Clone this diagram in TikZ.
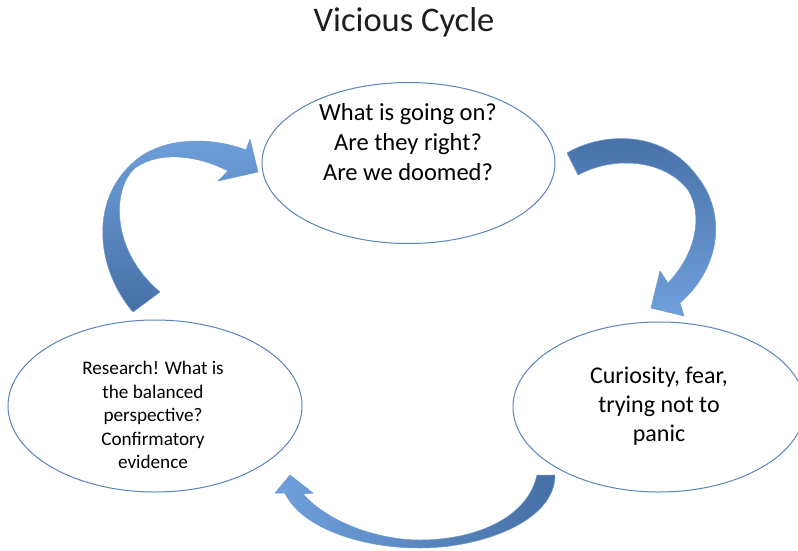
\documentclass[tikz,border=0pt]{standalone}
\usepackage{fontspec}
\setmainfont{Carlito}
\usetikzlibrary{shapes.geometric}
\definecolor{ringblue}{HTML}{5A84BE}
\definecolor{flowdark}{HTML}{466FA5}
\definecolor{flowlight}{HTML}{6FA0DC}
\definecolor{flowedge}{HTML}{6A98D2}
\definecolor{titlegray}{HTML}{1E1E1E}
\tikzset{
  ring/.style={draw=ringblue, line width=1pt, ellipse, inner sep=0pt},
  ringtext/.style={align=center, text=black},
  flow/.style={draw=flowedge, line width=0.5pt, line join=round},
}
\begin{document}
\begin{tikzpicture}[x=1pt, y=-1pt]
  \useasboundingbox (0,0) rectangle (798,550);
  \fill[white] (0,0) rectangle (798,550);

  % title
  \node[font=\fontsize{34.5}{40}\selectfont, text=titlegray, anchor=base] (title) at (404,31) {Vicious Cycle};

  % the three stages
  \node[ring, minimum width=293pt, minimum height=161pt] (top) at (408.5,163) {};
  \node[ringtext, font=\fontsize{24.5}{30}\selectfont] (toptext) at (408,142)
    {What is going on?\\Are they right?\\Are we doomed?};

  \node[ring, minimum width=294pt, minimum height=172pt] (left) at (155,406) {};
  \node[ringtext, font=\fontsize{19.2}{23.5}\selectfont] (lefttext) at (153,415)
    {Research! What is\\the balanced\\perspective?\\Confirmatory\\evidence};

  \node[ring, minimum width=292pt, minimum height=170pt] (right) at (659,407) {};
  \node[ringtext, font=\fontsize{24}{29}\selectfont] (righttext) at (659,406)
    {Curiosity, fear,\\trying not to\\panic};

  % curved block arrow: left stage up to top stage
  \path[flow, bottom color=flowdark, top color=flowlight]
    (133,312) .. controls (95,268) and (88,195) .. (140,157)
    .. controls (170,136) and (215,138) .. (246,150)
    -- (250,139) -- (258,172) -- (218,181) -- (228,171)
    .. controls (200,156) and (160,150) .. (135,168)
    .. controls (112,188) and (110,250) .. (160,292) -- cycle;

  % curved block arrow: top stage down to right stage
  \path[flow, top color=flowdark, bottom color=flowlight]
    (567,153) .. controls (600,133) and (662,128) .. (697,176)
    .. controls (726,212) and (722,266) .. (680,303)
    -- (684,316) -- (651,308) -- (660,271) -- (668,283)
    .. controls (695,255) and (704,216) .. (688,190)
    .. controls (665,160) and (615,155) .. (578,175) -- cycle;

  % curved block arrow: right stage round to left stage
  \path[flow, right color=flowdark, left color=flowlight]
    (555,475) .. controls (555,522) and (480,548) .. (420,548)
    .. controls (358,548) and (300,526) .. (285,493)
    -- (275,493) -- (290,475) -- (313,493) -- (303,494)
    .. controls (330,524) and (380,540) .. (420,540)
    .. controls (472,540) and (527,520) .. (537,475) -- cycle;
\end{tikzpicture}
\end{document}
